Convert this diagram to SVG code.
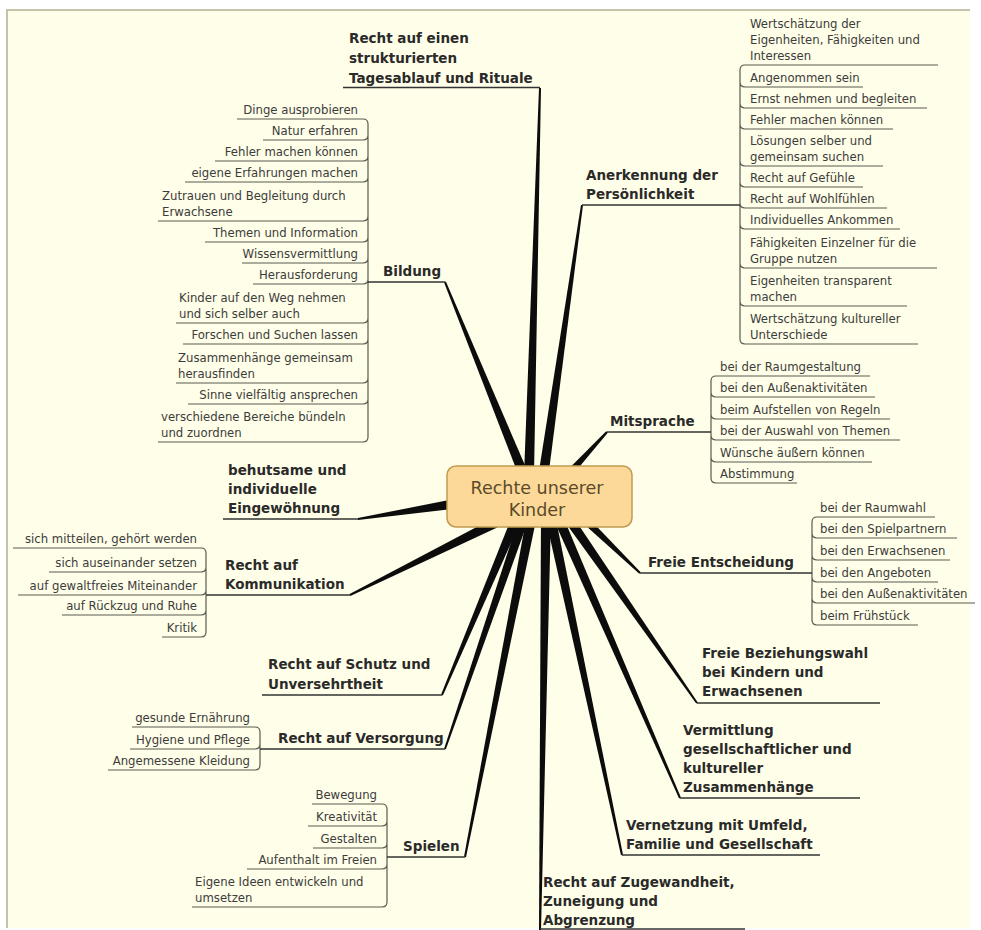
<svg xmlns="http://www.w3.org/2000/svg" width="981" height="930" viewBox="0 0 981 930">
<style>
.t1{font-family:"DejaVu Sans",Verdana,sans-serif;font-size:13.5px;font-weight:bold;fill:#2a2a2a}
.t2{font-family:"DejaVu Sans",Verdana,sans-serif;font-size:11.7px;fill:#3c3c3c}
.e{text-anchor:end}
.ul{stroke:#333;stroke-width:1.6;fill:none}
.cu{stroke:#5a5a50;stroke-width:1.2;fill:none}
.br{stroke:#5a5a50;stroke-width:1.2;fill:none}
.cn{fill:#0c0c0c}
.ct{font-family:"DejaVu Sans",Verdana,sans-serif;font-size:17.5px;fill:#5a4a2a;text-anchor:middle}
</style>
<rect x="0" y="0" width="981" height="930" fill="#ffffff"/>
<rect x="7" y="10" width="963" height="918" fill="#fffee8"/>
<path d="M7,928 L7,10 L970,10" stroke="#c4c4ac" stroke-width="2" fill="none"/>

<g id="connectors">
<polygon class="cn" points="539,88 541,88 534,475 524,475"/>
<polygon class="cn" points="444.1,282.4 445.9,281.6 529.6,476.1 520.4,479.9"/>
<polygon class="cn" points="581,204.9 583,205.1 548,478.7 538,477.3"/>
<polygon class="cn" points="606.2,431.3 607.8,432.7 568,480.6 562,475.4"/>
<polygon class="cn" points="357.9,518 358.1,520 460.7,508 459.3,498"/>
<polygon class="cn" points="349.6,594.1 350.4,595.9 497.2,527.5 492.8,518.5"/>
<polygon class="cn" points="441.1,694.6 442.9,695.4 522.6,517 513.4,513"/>
<polygon class="cn" points="444.1,748.7 445.9,749.3 529.7,516.6 520.3,513.4"/>
<polygon class="cn" points="464,856.8 466,857.2 536.9,516 527.1,514"/>
<polygon class="cn" points="539,930 541,930 551,515 541,515"/>
<polygon class="cn" points="621,855.2 623,854.8 554.9,514 545.1,516"/>
<polygon class="cn" points="679.1,798.4 680.9,797.6 561.6,513 552.4,517"/>
<polygon class="cn" points="696.2,703.6 697.8,702.4 570.1,512.2 561.9,517.8"/>
<polygon class="cn" points="639.3,573.7 640.7,572.3 582.8,512.1 577.2,517.9"/>
<path class="br" d="M740,70 Q740,65 745,65 M740,82 Q740,87 745,87 M740,103 Q740,108 745,108 M740,124 Q740,129 745,129 M740,161 Q740,166 745,166 M740,182 Q740,187 745,187 M740,203 Q740,208 745,208 M740,224 Q740,229 745,229 M740,263 Q740,268 745,268 M740,301 Q740,306 745,306 M740,339 Q740,344 745,344 M740,70 L740,339"/>
<path class="br" d="M711,381 Q711,376 716,376 M711,392 Q711,397 716,397 M711,414 Q711,419 716,419 M711,435 Q711,440 716,440 M711,457 Q711,462 716,462 M711,478 Q711,483 716,483 M711,381 L711,478"/>
<path class="br" d="M812,522 Q812,517 817,517 M812,533 Q812,538 817,538 M812,555 Q812,560 817,560 M812,577 Q812,582 817,582 M812,598 Q812,603 817,603 M812,620 Q812,625 817,625 M812,522 L812,620"/>
<path class="br" d="M368,124 Q368,119 363,119 M368,135 Q368,140 363,140 M368,156 Q368,161 363,161 M368,177 Q368,182 363,182 M368,216 Q368,221 363,221 M368,237 Q368,242 363,242 M368,258 Q368,263 363,263 M368,279 Q368,284 363,284 M368,318 Q368,323 363,323 M368,339 Q368,344 363,344 M368,378 Q368,383 363,383 M368,399 Q368,404 363,404 M368,437 Q368,442 363,442 M368,124 L368,437"/>
<path class="br" d="M206,553 Q206,548 201,548 M206,567 Q206,572 201,572 M206,590 Q206,595 201,595 M206,610 Q206,615 201,615 M206,632 Q206,637 201,637 M206,553 L206,632"/>
<path class="br" d="M260,732 Q260,727 255,727 M260,744 Q260,749 255,749 M260,765 Q260,770 255,770 M260,732 L260,765"/>
<path class="br" d="M387,809 Q387,804 382,804 M387,821 Q387,826 382,826 M387,843 Q387,848 382,848 M387,864 Q387,869 382,869 M387,902 Q387,907 382,907 M387,809 L387,902"/>
</g>

<g id="n-center">
<rect x="447" y="466" width="185" height="61" rx="9" fill="#fcd998" stroke="#c09a52" stroke-width="1.5"/>
<text class="ct" x="537" y="494">Rechte unserer</text>
<text class="ct" x="537" y="516">Kinder</text>
</g>

<g id="n-tagesablauf"><line class="ul" x1="343" y1="87.5" x2="540" y2="87.5"/>
<text class="t1" x="349" y="43">Recht auf einen</text><text class="t1" x="349" y="63">strukturierten</text><text class="t1" x="349" y="83">Tagesablauf und Rituale</text></g>

<g id="n-anerkennung"><line class="ul" x1="582" y1="205" x2="740" y2="205"/>
<text class="t1" x="586" y="180">Anerkennung der</text><text class="t1" x="586" y="199">Persönlichkeit</text></g>
<g id="a1"><line class="cu" x1="745" y1="65" x2="938" y2="65"/><text class="t2" x="750" y="27.5">Wertschätzung der</text><text class="t2" x="750" y="43.5">Eigenheiten, Fähigkeiten und</text><text class="t2" x="750" y="59.5">Interessen</text></g>
<g id="a2"><line class="cu" x1="745" y1="87" x2="863" y2="87"/><text class="t2" x="750" y="82">Angenommen sein</text></g>
<g id="a3"><line class="cu" x1="745" y1="108" x2="927" y2="108"/><text class="t2" x="750" y="103">Ernst nehmen und begleiten</text></g>
<g id="a4"><line class="cu" x1="745" y1="129" x2="893" y2="129"/><text class="t2" x="750" y="124">Fehler machen können</text></g>
<g id="a5"><line class="cu" x1="745" y1="166" x2="883" y2="166"/><text class="t2" x="750" y="145">Lösungen selber und</text><text class="t2" x="750" y="161">gemeinsam suchen</text></g>
<g id="a6"><line class="cu" x1="745" y1="187" x2="863" y2="187"/><text class="t2" x="750" y="182">Recht auf Gefühle</text></g>
<g id="a7"><line class="cu" x1="745" y1="208" x2="887" y2="208"/><text class="t2" x="750" y="203">Recht auf Wohlfühlen</text></g>
<g id="a8"><line class="cu" x1="745" y1="229" x2="900" y2="229"/><text class="t2" x="750" y="224">Individuelles Ankommen</text></g>
<g id="a9"><line class="cu" x1="745" y1="268" x2="937" y2="268"/><text class="t2" x="750" y="247">Fähigkeiten Einzelner für die</text><text class="t2" x="750" y="263">Gruppe nutzen</text></g>
<g id="a10"><line class="cu" x1="745" y1="306" x2="907" y2="306"/><text class="t2" x="750" y="285">Eigenheiten transparent</text><text class="t2" x="750" y="301">machen</text></g>
<g id="a11"><line class="cu" x1="745" y1="344" x2="918" y2="344"/><text class="t2" x="750" y="323">Wertschätzung kultureller</text><text class="t2" x="750" y="339">Unterschiede</text></g>

<g id="n-bildung"><line class="ul" x1="368" y1="282" x2="445" y2="282"/><text class="t1" x="383" y="276">Bildung</text></g>
<g id="b1"><line class="cu" x1="237" y1="119" x2="363" y2="119"/><text class="t2 e" x="358" y="114">Dinge ausprobieren</text></g>
<g id="b2"><line class="cu" x1="263" y1="140" x2="363" y2="140"/><text class="t2 e" x="358" y="135">Natur erfahren</text></g>
<g id="b3"><line class="cu" x1="215" y1="161" x2="363" y2="161"/><text class="t2 e" x="358" y="156">Fehler machen können</text></g>
<g id="b4"><line class="cu" x1="185" y1="182" x2="363" y2="182"/><text class="t2 e" x="358" y="177">eigene Erfahrungen machen</text></g>
<g id="b5"><line class="cu" x1="158" y1="221" x2="363" y2="221"/><text class="t2" x="162" y="200">Zutrauen und Begleitung durch</text><text class="t2" x="162" y="216">Erwachsene</text></g>
<g id="b6"><line class="cu" x1="205" y1="242" x2="363" y2="242"/><text class="t2 e" x="358" y="237">Themen und Information</text></g>
<g id="b7"><line class="cu" x1="242" y1="263" x2="363" y2="263"/><text class="t2 e" x="358" y="258">Wissensvermittlung</text></g>
<g id="b8"><line class="cu" x1="253" y1="284" x2="363" y2="284"/><text class="t2 e" x="358" y="279">Herausforderung</text></g>
<g id="b9"><line class="cu" x1="176" y1="323" x2="363" y2="323"/><text class="t2" x="179" y="302">Kinder auf den Weg nehmen</text><text class="t2" x="179" y="318">und sich selber auch</text></g>
<g id="b10"><line class="cu" x1="183" y1="344" x2="363" y2="344"/><text class="t2 e" x="358" y="339">Forschen und Suchen lassen</text></g>
<g id="b11"><line class="cu" x1="176" y1="383" x2="363" y2="383"/><text class="t2" x="178" y="362">Zusammenhänge gemeinsam</text><text class="t2" x="178" y="378">herausfinden</text></g>
<g id="b12"><line class="cu" x1="188" y1="404" x2="363" y2="404"/><text class="t2 e" x="358" y="399">Sinne vielfältig ansprechen</text></g>
<g id="b13"><line class="cu" x1="158" y1="442" x2="363" y2="442"/><text class="t2" x="161" y="421">verschiedene Bereiche bündeln</text><text class="t2" x="161" y="437">und zuordnen</text></g>

<g id="n-mitsprache"><line class="ul" x1="607" y1="432" x2="711" y2="432"/><text class="t1" x="610" y="426">Mitsprache</text></g>
<g id="m1"><line class="cu" x1="716" y1="376" x2="870" y2="376"/><text class="t2" x="720" y="371">bei der Raumgestaltung</text></g>
<g id="m2"><line class="cu" x1="716" y1="397" x2="875" y2="397"/><text class="t2" x="720" y="392">bei den Außenaktivitäten</text></g>
<g id="m3"><line class="cu" x1="716" y1="419" x2="890" y2="419"/><text class="t2" x="720" y="414">beim Aufstellen von Regeln</text></g>
<g id="m4"><line class="cu" x1="716" y1="440" x2="900" y2="440"/><text class="t2" x="720" y="435">bei der Auswahl von Themen</text></g>
<g id="m5"><line class="cu" x1="716" y1="462" x2="872" y2="462"/><text class="t2" x="720" y="457">Wünsche äußern können</text></g>
<g id="m6"><line class="cu" x1="716" y1="483" x2="797" y2="483"/><text class="t2" x="720" y="478">Abstimmung</text></g>

<g id="n-eingewoehnung"><line class="ul" x1="223" y1="519" x2="358" y2="519"/>
<text class="t1" x="228" y="475">behutsame und</text><text class="t1" x="228" y="494">individuelle</text><text class="t1" x="228" y="513">Eingewöhnung</text></g>

<g id="n-kommunikation"><line class="ul" x1="206" y1="595" x2="350" y2="595"/>
<text class="t1" x="225" y="570">Recht auf</text><text class="t1" x="225" y="589">Kommunikation</text></g>
<g id="k1"><line class="cu" x1="13" y1="548" x2="201" y2="548"/><text class="t2 e" x="197" y="543">sich mitteilen, gehört werden</text></g>
<g id="k2"><line class="cu" x1="49" y1="572" x2="201" y2="572"/><text class="t2 e" x="197" y="567">sich auseinander setzen</text></g>
<g id="k3"><line class="cu" x1="18" y1="595" x2="201" y2="595"/><text class="t2 e" x="197" y="590">auf gewaltfreies Miteinander</text></g>
<g id="k4"><line class="cu" x1="62" y1="615" x2="201" y2="615"/><text class="t2 e" x="197" y="610">auf Rückzug und Ruhe</text></g>
<g id="k5"><line class="cu" x1="162" y1="637" x2="201" y2="637"/><text class="t2 e" x="197" y="632">Kritik</text></g>

<g id="n-entscheidung"><line class="ul" x1="640" y1="573" x2="812" y2="573"/><text class="t1" x="648" y="567">Freie Entscheidung</text></g>
<g id="f1"><line class="cu" x1="817" y1="517" x2="935" y2="517"/><text class="t2" x="820" y="512">bei der Raumwahl</text></g>
<g id="f2"><line class="cu" x1="817" y1="538" x2="957" y2="538"/><text class="t2" x="820" y="533">bei den Spielpartnern</text></g>
<g id="f3"><line class="cu" x1="817" y1="560" x2="950" y2="560"/><text class="t2" x="820" y="555">bei den Erwachsenen</text></g>
<g id="f4"><line class="cu" x1="817" y1="582" x2="938" y2="582"/><text class="t2" x="820" y="577">bei den Angeboten</text></g>
<g id="f5"><line class="cu" x1="817" y1="603" x2="975" y2="603"/><text class="t2" x="820" y="598">bei den Außenaktivitäten</text></g>
<g id="f6"><line class="cu" x1="817" y1="625" x2="918" y2="625"/><text class="t2" x="820" y="620">beim Frühstück</text></g>

<g id="n-beziehungswahl"><line class="ul" x1="697" y1="703" x2="880" y2="703"/>
<text class="t1" x="702" y="658">Freie Beziehungswahl</text><text class="t1" x="702" y="677">bei Kindern und</text><text class="t1" x="702" y="696">Erwachsenen</text></g>

<g id="n-vermittlung"><line class="ul" x1="680" y1="798" x2="860" y2="798"/>
<text class="t1" x="683" y="735">Vermittlung</text><text class="t1" x="683" y="754">gesellschaftlicher und</text><text class="t1" x="683" y="773">kultureller</text><text class="t1" x="683" y="792">Zusammenhänge</text></g>

<g id="n-vernetzung"><line class="ul" x1="622" y1="855" x2="820" y2="855"/>
<text class="t1" x="626" y="830">Vernetzung mit Umfeld,</text><text class="t1" x="626" y="849">Familie und Gesellschaft</text></g>

<g id="n-zugewandheit"><line class="ul" x1="540" y1="929" x2="745" y2="929"/>
<text class="t1" x="543" y="887">Recht auf Zugewandheit,</text><text class="t1" x="543" y="906">Zuneigung und</text><text class="t1" x="543" y="925">Abgrenzung</text></g>

<g id="n-schutz"><line class="ul" x1="262" y1="695" x2="442" y2="695"/>
<text class="t1" x="268" y="669">Recht auf Schutz und</text><text class="t1" x="268" y="689">Unversehrtheit</text></g>

<g id="n-versorgung"><line class="ul" x1="260" y1="749" x2="445" y2="749"/><text class="t1" x="278" y="743">Recht auf Versorgung</text></g>
<g id="v1"><line class="cu" x1="132" y1="727" x2="255" y2="727"/><text class="t2 e" x="250" y="722">gesunde Ernährung</text></g>
<g id="v2"><line class="cu" x1="130" y1="749" x2="255" y2="749"/><text class="t2 e" x="250" y="744">Hygiene und Pflege</text></g>
<g id="v3"><line class="cu" x1="108" y1="770" x2="255" y2="770"/><text class="t2 e" x="250" y="765">Angemessene Kleidung</text></g>

<g id="n-spielen"><line class="ul" x1="387" y1="857" x2="465" y2="857"/><text class="t1" x="403" y="851">Spielen</text></g>
<g id="s1"><line class="cu" x1="312" y1="804" x2="382" y2="804"/><text class="t2 e" x="377" y="799">Bewegung</text></g>
<g id="s2"><line class="cu" x1="308" y1="826" x2="382" y2="826"/><text class="t2 e" x="377" y="821">Kreativität</text></g>
<g id="s3"><line class="cu" x1="313" y1="848" x2="382" y2="848"/><text class="t2 e" x="377" y="843">Gestalten</text></g>
<g id="s4"><line class="cu" x1="247" y1="869" x2="382" y2="869"/><text class="t2 e" x="377" y="864">Aufenthalt im Freien</text></g>
<g id="s5"><line class="cu" x1="192" y1="907" x2="382" y2="907"/><text class="t2" x="195" y="886">Eigene Ideen entwickeln und</text><text class="t2" x="195" y="902">umsetzen</text></g>
</svg>
